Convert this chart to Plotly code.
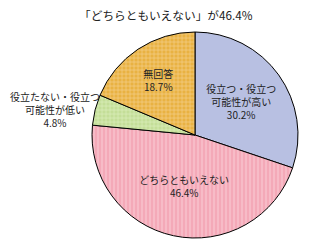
import plotly.graph_objects as go

labels = ["役立つ・役立つ<br>可能性が高い", "どちらともいえない", "役立たない・役立つ<br>可能性が低い", "無回答"]
values = [30.2, 46.4, 4.8, 18.7]
colors = ["#B8C0E2", "#F4A9B8", "#C4DE98", "#E9B242"]
pat_shapes = ["", "|", "+", "+"]
pat_fg = ["#B8C0E2", "#F9C8D2", "#DCEEBC", "#F4D08A"]
title = "「どちらともいえない」が46.4%"

FONT = "Noto Sans CJK JP"

texts = [f"{l}<br>{v}%" for l, v in zip(labels, values)]
texts[2] = ""

fig = go.Figure(go.Pie(
    values=values,
    labels=labels,
    text=texts,
    textinfo="text",
    textposition="inside",
    insidetextorientation="horizontal",
    sort=False,
    direction="clockwise",
    rotation=0,
    marker=dict(colors=colors, line=dict(color="black", width=1),
                pattern=dict(shape=pat_shapes, fgcolor=pat_fg, bgcolor=colors,
                             fillmode="replace", size=4, solidity=0.3)),
    textfont=dict(family=FONT, size=10, color="#222222"),
    domain=dict(x=[92/311, 298/311], y=[13/251, 219/251]),
    showlegend=False,
    hoverinfo="skip",
))

fig.add_annotation(
    text=f"{labels[2]}<br>{values[2]}%",
    x=55/311, y=1-109/251, xref="paper", yref="paper",
    xanchor="center", yanchor="middle",
    showarrow=False, font=dict(family=FONT, size=10, color="#222222"),
    align="center",
)
fig.add_annotation(
    text=title, x=166/311, y=1-15/251, xref="paper", yref="paper",
    xanchor="center", yanchor="middle",
    showarrow=False, font=dict(family=FONT, size=11.7, color="#222222"),
)

fig.update_layout(
    width=311, height=251,
    margin=dict(l=0, r=0, t=0, b=0),
    paper_bgcolor="white", plot_bgcolor="white",
)

fig.write_html("out.html")
